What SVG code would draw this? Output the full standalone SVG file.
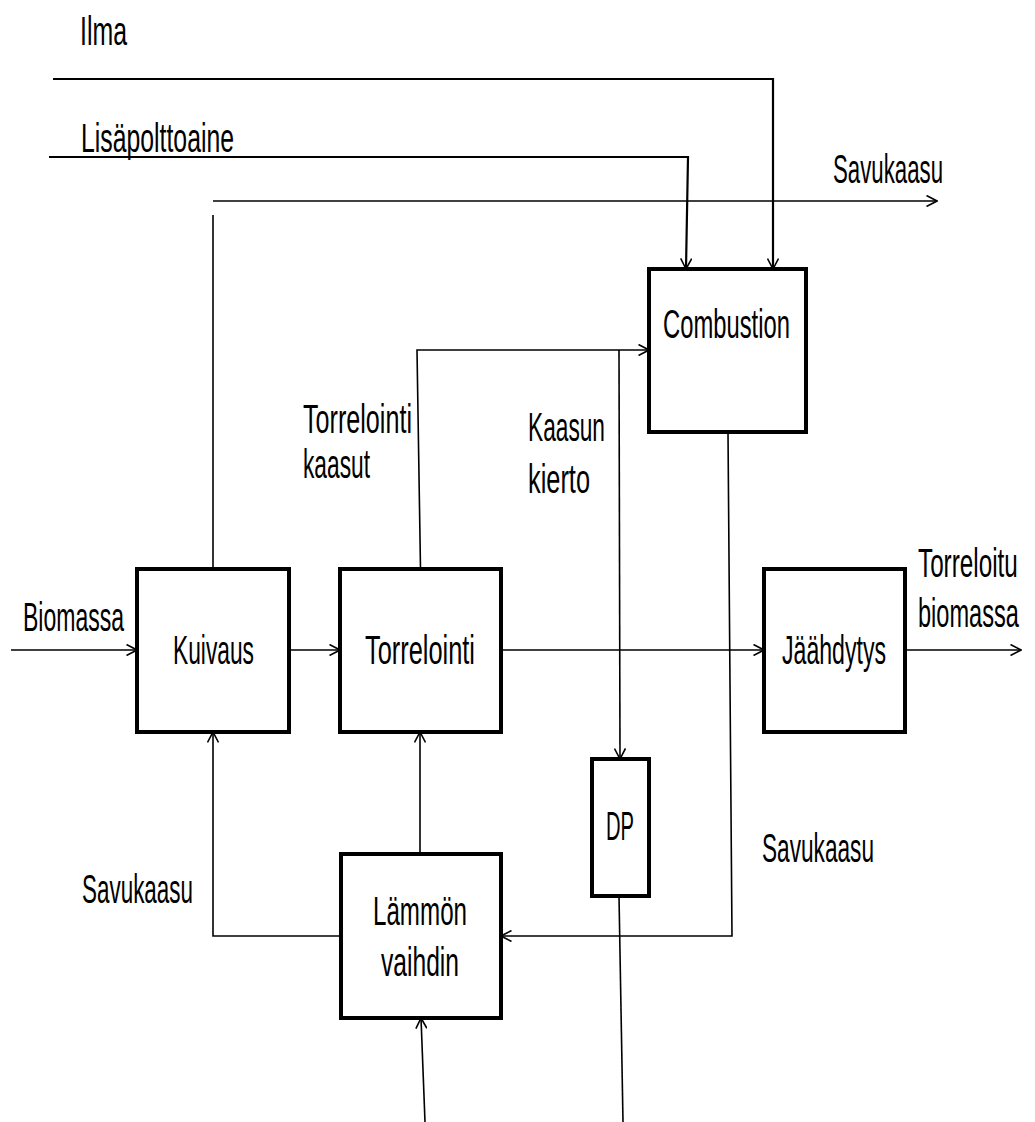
<svg xmlns="http://www.w3.org/2000/svg" width="1035" height="1122" viewBox="0 0 1035 1122">
<style>
.box{fill:#fff;stroke:#000;stroke-width:4}
.ln{fill:none;stroke:#000;stroke-width:1.6}
.lt{fill:none;stroke:#000;stroke-width:2.2}
.ar{marker-end:url(#arr)}
text{font-family:"Liberation Sans",Arial,sans-serif;font-size:41px;fill:#000}
</style>
<defs>
<marker id="arr" viewBox="0 0 12 12" refX="11" refY="6" markerWidth="12" markerHeight="12" orient="auto" markerUnits="userSpaceOnUse">
<path d="M0.5,0.5 L11,6 L0.5,11.5" fill="none" stroke="#000" stroke-width="1.6"/>
</marker>
</defs>
<rect width="1035" height="1122" fill="#fff"/>
<g id="connectors">
<path class="lt ar" d="M53,79 H773 V269"/>
<path class="lt ar" d="M49,157 H688 L686,269"/>
<path class="ln ar" d="M213,201 H937"/>
<path class="ln" d="M213,569 V215"/>
<path class="ln ar" d="M420.5,569 L417,350 H649"/>
<path class="ln ar" d="M619,350 L620,759"/>
<path class="ln ar" d="M728,432 L732,936 H501"/>
<path class="ln ar" d="M341,936 H213 V732"/>
<path class="ln ar" d="M420,854 V732"/>
<path class="ln ar" d="M425,1122 L421,1018"/>
<path class="ln" d="M619,896 L623,1122"/>
<path class="ln ar" d="M11,650 H137"/>
<path class="ln ar" d="M289,650 H340"/>
<path class="ln ar" d="M501,650 H764"/>
<path class="ln ar" d="M905,650 H1021"/>
</g>
<g id="labels">
<text x="80" y="45" textLength="47" lengthAdjust="spacingAndGlyphs">Ilma</text>
<text x="81" y="152" textLength="153" lengthAdjust="spacingAndGlyphs">Lisäpolttoaine</text>
<text x="833" y="183" textLength="110" lengthAdjust="spacingAndGlyphs">Savukaasu</text>
<text x="303" y="433" textLength="109" lengthAdjust="spacingAndGlyphs">Torrelointi</text>
<text x="303" y="478" textLength="67" lengthAdjust="spacingAndGlyphs">kaasut</text>
<text x="528" y="441" textLength="77" lengthAdjust="spacingAndGlyphs">Kaasun</text>
<text x="528" y="493" textLength="62" lengthAdjust="spacingAndGlyphs">kierto</text>
<text x="23" y="631" textLength="101" lengthAdjust="spacingAndGlyphs">Biomassa</text>
<text transform="translate(918,577) scale(0.58,1)" x="0" y="0" textLength="172" lengthAdjust="spacingAndGlyphs">Torreloitu</text>
<text transform="translate(918,627) scale(0.58,1)" x="0" y="0" textLength="174" lengthAdjust="spacingAndGlyphs">biomassa</text>
<text x="762" y="862" textLength="112" lengthAdjust="spacingAndGlyphs">Savukaasu</text>
<text x="82" y="903" textLength="111" lengthAdjust="spacingAndGlyphs">Savukaasu</text>
</g>
<g id="combustion">
<rect class="box" x="649" y="269" width="157" height="163"/>
<text x="663" y="338" textLength="127" lengthAdjust="spacingAndGlyphs">Combustion</text>
</g>
<g id="kuivaus">
<rect class="box" x="137" y="569" width="152" height="163"/>
<text x="173" y="664" textLength="81" lengthAdjust="spacingAndGlyphs">Kuivaus</text>
</g>
<g id="torrelointi">
<rect class="box" x="340" y="569" width="161" height="163"/>
<text x="365" y="664" textLength="110" lengthAdjust="spacingAndGlyphs">Torrelointi</text>
</g>
<g id="jaahdytys">
<rect class="box" x="764" y="569" width="141" height="163"/>
<text x="782" y="664" textLength="104" lengthAdjust="spacingAndGlyphs">Jäähdytys</text>
</g>
<g id="dp">
<rect class="box" x="592" y="759" width="57" height="137"/>
<text x="606" y="840" textLength="28" lengthAdjust="spacingAndGlyphs">DP</text>
</g>
<g id="lammonvaihdin">
<rect class="box" x="341" y="854" width="160" height="164"/>
<text x="373" y="925" textLength="94" lengthAdjust="spacingAndGlyphs">Lämmön</text>
<text x="381" y="976" textLength="78" lengthAdjust="spacingAndGlyphs">vaihdin</text>
</g>
</svg>
